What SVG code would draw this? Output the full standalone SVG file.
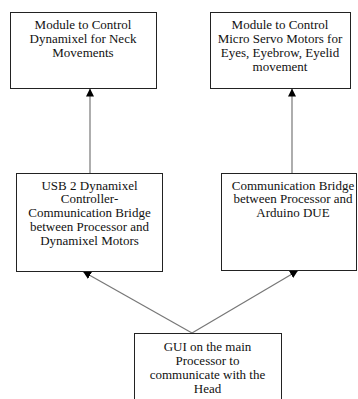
<svg xmlns="http://www.w3.org/2000/svg" width="358" height="399" viewBox="0 0 358 399">
<style>
.box{fill:#fff;stroke:#222;stroke-width:1}
.t{font-family:"Liberation Serif","Times New Roman",serif;font-size:13px;fill:#111;text-anchor:middle}
.c{stroke:#777;stroke-width:1.2;fill:none}
</style>
<defs>
<marker id="ah" viewBox="0 0 10 10" refX="10" refY="5" markerWidth="8" markerHeight="8" markerUnits="userSpaceOnUse" orient="auto">
<path d="M0,0 L10,5 L0,10 z" fill="#000"/>
</marker>
</defs>
<rect width="358" height="399" fill="#fff"/>
<g id="connectors">
<line class="c" x1="90" y1="173" x2="90" y2="88.5" marker-end="url(#ah)"/>
<line class="c" x1="292" y1="173" x2="292" y2="88.5" marker-end="url(#ah)"/>
<line class="c" x1="192" y1="333" x2="83" y2="271.5" marker-end="url(#ah)"/>
<line class="c" x1="192" y1="333" x2="298" y2="270.5" marker-end="url(#ah)"/>
</g>
<g id="n1">
<rect class="box" x="10.5" y="12.5" width="146" height="76"/>
<text class="t" x="83" y="29">Module to Control</text>
<text class="t" x="83" y="43">Dynamixel for Neck</text>
<text class="t" x="83" y="57">Movements</text>
</g>
<g id="n2">
<rect class="box" x="210.5" y="12.5" width="140" height="76"/>
<text class="t" x="280" y="29">Module to Control</text>
<text class="t" x="280" y="43">Micro Servo Motors for</text>
<text class="t" x="280" y="57">Eyes, Eyebrow, Eyelid</text>
<text class="t" x="280" y="71">movement</text>
</g>
<g id="n3">
<rect class="box" x="16.5" y="173.5" width="146" height="98"/>
<text class="t" x="89.5" y="189.5">USB 2 Dynamixel</text>
<text class="t" x="89.5" y="203">Controller-</text>
<text class="t" x="89.5" y="217">Communication Bridge</text>
<text class="t" x="89.5" y="231">between Processor and</text>
<text class="t" x="89.5" y="245">Dynamixel Motors</text>
</g>
<g id="n4">
<rect class="box" x="221.5" y="173.5" width="135" height="97"/>
<text class="t" x="293" y="189.5">Communication Bridge</text>
<text class="t" x="293" y="203">between Processor and</text>
<text class="t" x="293" y="217">Arduino DUE</text>
</g>
<g id="n5">
<rect class="box" x="134.5" y="333.5" width="147" height="80"/>
<text class="t" x="207.5" y="350.5">GUI on the main</text>
<text class="t" x="207.5" y="364.5">Processor to</text>
<text class="t" x="207.5" y="378.5">communicate with the</text>
<text class="t" x="207.5" y="392.5">Head</text>
</g>
</svg>
